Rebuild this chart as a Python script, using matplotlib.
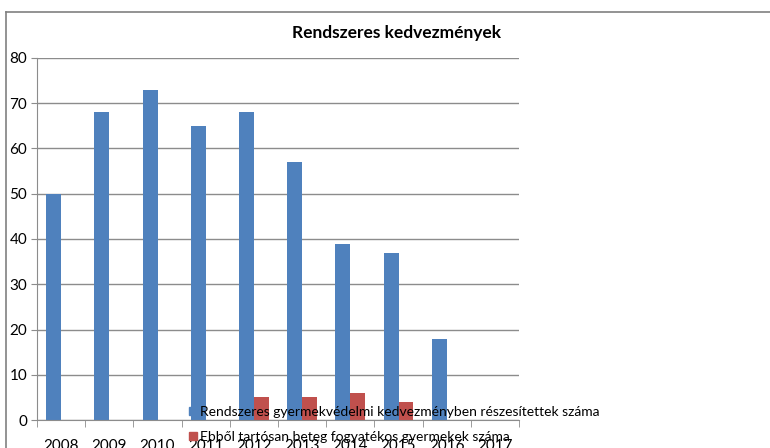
import matplotlib.pyplot as plt
import numpy as np
from matplotlib.lines import Line2D

plt.rcParams['font.family'] = ['Lato', 'DejaVu Sans']

years = ['2008', '2009', '2010', '2011', '2012', '2013', '2014', '2015', '2016', '2017']
rendszeres = [50, 68, 73, 65, 68, 57, 39, 37, 18, np.nan]
tartosan = [np.nan, np.nan, np.nan, np.nan, 5, 5, 6, 4, np.nan, np.nan]

label1 = 'Rendszeres gyermekvédelmi kedvezményben részesítettek száma'
label2 = 'Ebből tartósan beteg fogyatékos gyermekek száma'

fig = plt.figure(figsize=(7.7, 4.48), dpi=100)
ax = fig.add_axes([37/770, 1-420/448, (519-37)/770, (420-58)/448])

x = np.arange(len(years))
w = 0.31
ax.bar(x - w/2, rendszeres, w, color='#4F81BD', zorder=2)
ax.bar(x + w/2, tartosan, w, color='#C0504D', zorder=2)

ax.set_xlim(-0.5, len(years) - 0.5)
ax.set_ylim(0, 80)
ax.set_yticks(range(0, 81, 10))
ax.yaxis.grid(True, color='#8c8c8c', linewidth=1)
ax.set_axisbelow(True)
for s in ['top', 'right']:
    ax.spines[s].set_visible(False)
for s in ['left', 'bottom']:
    ax.spines[s].set_color('#8c8c8c')
ax.tick_params(axis='y', length=4, color='#8c8c8c', labelsize=11, pad=3)

# x labels at category centres, tick marks at boundaries
ax.set_xticks(x)
ax.set_xticklabels(years, fontsize=11)
ax.tick_params(axis='x', length=0, pad=14)
ax.set_xticks(np.arange(-0.5, len(years)), minor=True)
ax.tick_params(axis='x', which='minor', length=5, color='#8c8c8c')

fig.text(397/770, 1-33/448, 'Rendszeres kedvezmények', ha='center', va='center',
         fontsize=12.5, fontweight='bold')

handles = [Line2D([], [], marker='s', linestyle='', color='#4F81BD', markersize=6),
           Line2D([], [], marker='s', linestyle='', color='#C0504D', markersize=6)]
fig.legend(handles, [label1, label2], loc='upper left',
           bbox_to_anchor=(180/770, 1-399/448), frameon=False, fontsize=10,
           handletextpad=0.05, handlelength=0.9, labelspacing=0.95, borderpad=0)

# outer chart border
fig.add_artist(Line2D([6/770, 6/770], [0, 1-12/448], color='#808080', lw=1.2,
                      transform=fig.transFigure))
fig.add_artist(Line2D([6/770, 1], [1-12/448, 1-12/448], color='#808080', lw=1.2,
                      transform=fig.transFigure))

fig.savefig('out.png', dpi=100)
